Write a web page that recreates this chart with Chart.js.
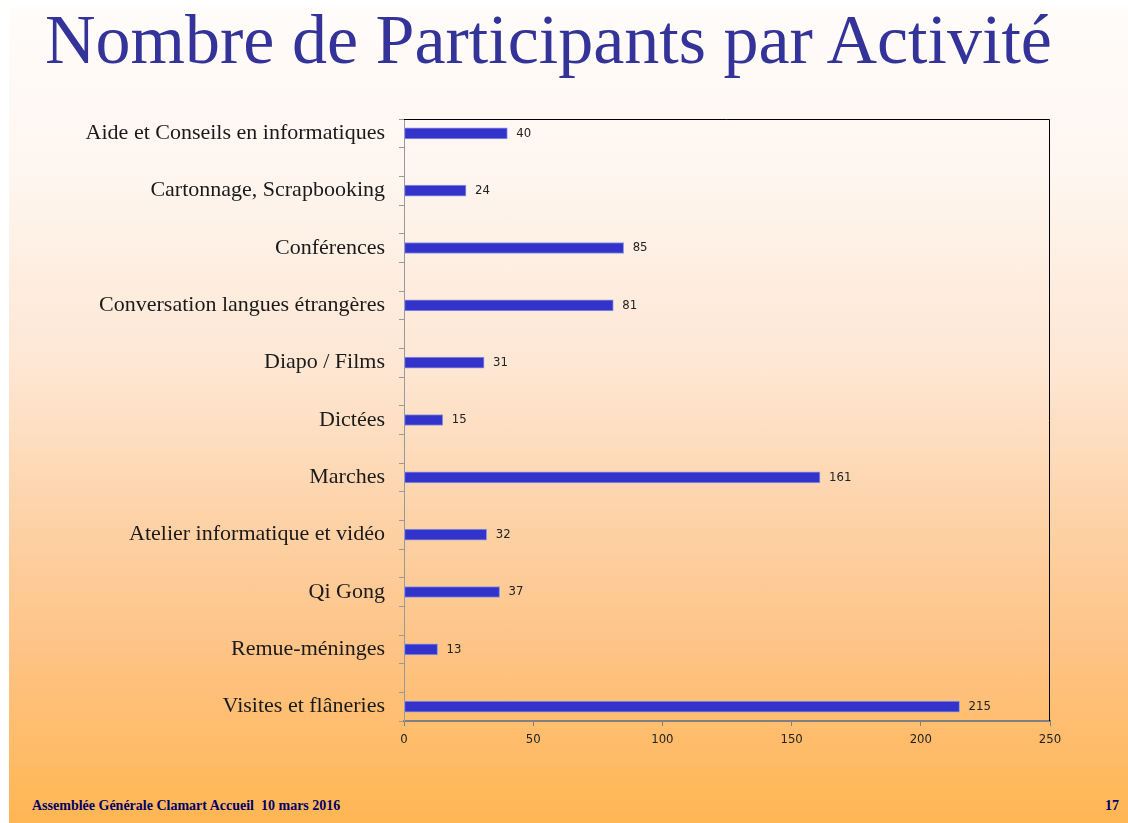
<!DOCTYPE html>
<html>
<head>
<meta charset="utf-8">
<script src="https://cdn.jsdelivr.net/npm/chart.js"></script>
<style>
html, body { margin: 0; padding: 0; width: 1128px; height: 823px; overflow: hidden; background: #fff; }
#slide {
    position: absolute; left: 9px; top: 7px; right: 0; bottom: 0;
    background: linear-gradient(to bottom, #fffcfa 0%, #fef6f0 20%, #fee6d2 45%, #fdd3a9 62%, #fec487 78%, #ffb653 100%);
}
#title {
    position: absolute; left: 45px; top: 5px; margin: 0;
    font-family: "Liberation Serif", "Times New Roman", serif; font-weight: normal;
    font-size: 70px; line-height: 70px; color: #333399; white-space: nowrap;
}
.footer {
    position: absolute; top: 798px;
    font-family: "Liberation Serif", "Times New Roman", serif; font-weight: bold;
    font-size: 14px; line-height: 16px; color: #000066; white-space: nowrap;
}
#chartBox { position: absolute; left: 0; top: 0; width: 1128px; height: 823px; }
</style>
</head>
<body>
<div id="slide"></div>
<h1 id="title">Nombre de Participants par Activité</h1>
<div class="footer" style="left:32px">Assemblée Générale Clamart Accueil&nbsp; 10 mars 2016</div>
<div class="footer" style="left:1105px">17</div>
<div id="chartBox"><canvas id="myChart" width="1128" height="823"></canvas></div>

<script>
const activities = [
    'Aide et Conseils en informatiques',
    'Cartonnage, Scrapbooking',
    'Conférences',
    'Conversation langues étrangères',
    'Diapo / Films',
    'Dictées',
    'Marches',
    'Atelier informatique et vidéo',
    'Qi Gong',
    'Remue-méninges',
    'Visites et flâneries'
];
const participants = [40, 24, 85, 81, 31, 15, 161, 32, 37, 13, 215];
const xTicks = [0, 50, 100, 150, 200, 250];

// the original axis leaves an empty row between every activity
const rowLabels = [];
const rowValues = [];
activities.forEach((a, i) => {
    if (i > 0) { rowLabels.push(''); rowValues.push(null); }
    rowLabels.push(a);
    rowValues.push(participants[i]);
});

const frame = {
    id: 'frame',
    afterDraw(chart) {
        const c = chart.ctx, a = chart.chartArea;
        c.save();
        c.strokeStyle = '#000';
        c.lineWidth = 1;
        c.beginPath();
        c.moveTo(a.left, a.top + 0.5);
        c.lineTo(a.right - 0.5, a.top + 0.5);
        c.lineTo(a.right - 0.5, a.bottom);
        c.stroke();
        c.restore();
    }
};

const valueLabels = {
    id: 'valueLabels',
    afterDatasetsDraw(chart) {
        const c = chart.ctx;
        const meta = chart.getDatasetMeta(0);
        c.save();
        c.font = '13px "DejaVu Sans Condensed", "Liberation Sans Narrow", sans-serif';
        c.fillStyle = '#222';
        c.textBaseline = 'middle';
        c.textAlign = 'left';
        meta.data.forEach((bar, i) => {
            const v = rowValues[i];
            if (v === null) return;
            c.fillText(String(v), bar.x + 9, bar.y);
        });
        c.restore();
    }
};

const ctx = document.getElementById('myChart');
new Chart(ctx, {
    type: 'bar',
    data: {
        labels: rowLabels,
        datasets: [{
            data: rowValues,
            backgroundColor: '#3333cc',
            borderColor: '#8c98dc',
            borderWidth: 1,
            borderSkipped: false,
            barThickness: 11
        }]
    },
    options: {
        indexAxis: 'y',
        responsive: false,
        animation: false,
        layout: { padding: { top: 119, right: 78, bottom: 60, left: 0 } },
        plugins: { legend: { display: false }, tooltip: { enabled: false } },
        scales: {
            x: {
                min: 0, max: 250,
                afterBuildTicks: (s) => { s.ticks = xTicks.map(v => ({ value: v })); },
                afterFit: (s) => { s.height = 42; },
                grid: { drawOnChartArea: false, tickLength: 5, color: '#808080' },
                border: { color: '#808080', width: 2 },
                ticks: {
                    padding: 6,
                    color: '#222',
                    font: { family: '"Liberation Sans Narrow", "DejaVu Sans Condensed", sans-serif', size: 13 }
                }
            },
            y: {
                afterFit: (s) => { s.width = 404; },
                grid: { drawOnChartArea: false, offset: true, tickLength: 5, color: '#999' },
                border: { color: '#999', width: 1 },
                ticks: {
                    autoSkip: false,
                    padding: 14,
                    color: '#1a1a1a',
                    font: { family: '"Liberation Serif", "Times New Roman", serif', size: 22 }
                }
            }
        }
    },
    plugins: [frame, valueLabels]
});
</script>
</body>
</html>
